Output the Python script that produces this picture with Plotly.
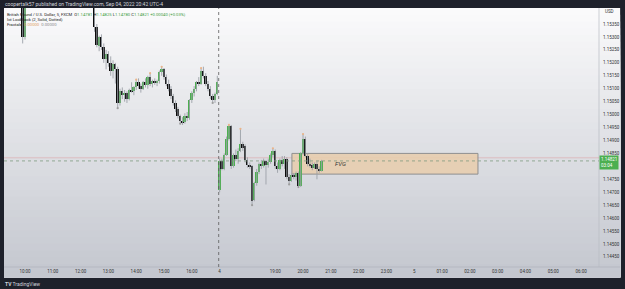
import plotly.graph_objects as go

# ---------------- data ----------------
# bar index: 0 = Fri 09:00 (5-minute bars); index 96 = Sun 17:00 session open
bar_index = list(range(3, 141))

opens = [
    # idx 3-10 (above visible range)
    1.15520, 1.15540, 1.15560, 1.15530, 1.15500, 1.15520, 1.15490, 1.15470,
    # 11, 12
    1.15460, 1.15300,
    # 13-41 (above visible range)
    1.15450, 1.15480, 1.15500, 1.15530, 1.15510, 1.15540, 1.15560, 1.15580, 1.15570, 1.15550,
    1.15530, 1.15560, 1.15590, 1.15600, 1.15580, 1.15560, 1.15540, 1.15520, 1.15550, 1.15570,
    1.15560, 1.15540, 1.15520, 1.15500, 1.15490, 1.15510, 1.15500, 1.15480, 1.15470,
    # 42-59
    1.15470, 1.15340, 1.15265, 1.15300, 1.15260, 1.15215, 1.15235, 1.15200, 1.15170, 1.15195,
    1.15175, 1.15045, 1.15090, 1.15075, 1.15085, 1.15060, 1.15095, 1.15090,
    # 60-79
    1.15105, 1.15125, 1.15110, 1.15100, 1.15125, 1.15115, 1.15145, 1.15120, 1.15130, 1.15125,
    1.15128, 1.15165, 1.15175, 1.15145, 1.15120, 1.15100, 1.15070, 1.15045, 1.15020, 1.14995,
    # 80-95
    1.14975, 1.14970, 1.14995, 1.14985, 1.15055, 1.15085, 1.15100, 1.15125, 1.15120, 1.15170,
    1.15150, 1.15120, 1.15100, 1.15070, 1.15055, 1.15080,
    # 96-115 (Sunday)
    1.14710, 1.14820, 1.14790, 1.14845, 1.14905, 1.14955, 1.14800, 1.14845, 1.14830, 1.14860,
    1.14885, 1.14880, 1.14825, 1.14805, 1.14800, 1.14670, 1.14735, 1.14780, 1.14810, 1.14800,
    # 116-140
    1.14820, 1.14805, 1.14815, 1.14845, 1.14860, 1.14800, 1.14790, 1.14825, 1.14810, 1.14830,
    1.14760, 1.14745, 1.14765, 1.14760, 1.14775, 1.14725, 1.14850, 1.14905, 1.14840, 1.14810,
    1.14805, 1.14795, 1.14810, 1.14790, 1.14781,
]
highs = [
    1.15560, 1.15580, 1.15590, 1.15560, 1.15540, 1.15550, 1.15520, 1.15500,
    1.15470, 1.15470,
    1.15500, 1.15520, 1.15550, 1.15560, 1.15560, 1.15580, 1.15600, 1.15610, 1.15600, 1.15580,
    1.15580, 1.15610, 1.15620, 1.15630, 1.15610, 1.15590, 1.15570, 1.15570, 1.15590, 1.15600,
    1.15590, 1.15570, 1.15550, 1.15530, 1.15530, 1.15540, 1.15530, 1.15510, 1.15500,
    1.15490, 1.15350, 1.15305, 1.15310, 1.15275, 1.15250, 1.15245, 1.15225, 1.15210, 1.15200,
    1.15185, 1.15100, 1.15105, 1.15095, 1.15090, 1.15100, 1.15125, 1.15110,
    1.15135, 1.15140, 1.15120, 1.15130, 1.15140, 1.15150, 1.15160, 1.15135, 1.15140, 1.15135,
    1.15170, 1.15185, 1.15180, 1.15155, 1.15135, 1.15110, 1.15080, 1.15055, 1.15030, 1.15000,
    1.14990, 1.15005, 1.15010, 1.15060, 1.15090, 1.15110, 1.15130, 1.15145, 1.15180, 1.15185,
    1.15160, 1.15130, 1.15110, 1.15080, 1.15085, 1.15150,
    1.14830, 1.14830, 1.14850, 1.14915, 1.14960, 1.14960, 1.14850, 1.14865, 1.14870, 1.14945,
    1.14895, 1.14885, 1.14835, 1.14815, 1.14805, 1.14740, 1.14790, 1.14815, 1.14825, 1.14830,
    1.14825, 1.14830, 1.14850, 1.14870, 1.14865, 1.14815, 1.14830, 1.14840, 1.14840, 1.14835,
    1.14770, 1.14770, 1.14775, 1.14780, 1.14780, 1.14855, 1.14925, 1.14915, 1.14850, 1.14830,
    1.14815, 1.14815, 1.14820, 1.14800, 1.14825,
]
lows = [
    1.15500, 1.15520, 1.15520, 1.15480, 1.15480, 1.15480, 1.15460, 1.15450,
    1.15275, 1.15290,
    1.15440, 1.15470, 1.15490, 1.15500, 1.15500, 1.15530, 1.15550, 1.15560, 1.15540, 1.15520,
    1.15520, 1.15550, 1.15580, 1.15570, 1.15550, 1.15530, 1.15510, 1.15510, 1.15540, 1.15550,
    1.15530, 1.15510, 1.15490, 1.15480, 1.15480, 1.15490, 1.15470, 1.15460, 1.15450,
    1.15320, 1.15260, 1.15245, 1.15250, 1.15200, 1.15175, 1.15185, 1.15150, 1.15140, 1.15120,
    1.15025, 1.15035, 1.15060, 1.15050, 1.15045, 1.15055, 1.15085, 1.15075,
    1.15095, 1.15100, 1.15085, 1.15095, 1.15105, 1.15100, 1.15110, 1.15105, 1.15115, 1.15110,
    1.15120, 1.15150, 1.15135, 1.15110, 1.15090, 1.15060, 1.15035, 1.15010, 1.14985, 1.14965,
    1.14960, 1.14965, 1.14975, 1.14980, 1.15045, 1.15070, 1.15090, 1.15110, 1.15115, 1.15140,
    1.15110, 1.15090, 1.15060, 1.15045, 1.15045, 1.15075,
    1.14700, 1.14785, 1.14785, 1.14840, 1.14900, 1.14790, 1.14795, 1.14820, 1.14810, 1.14855,
    1.14860, 1.14815, 1.14795, 1.14790, 1.14650, 1.14665, 1.14725, 1.14770, 1.14790, 1.14795,
    1.14730, 1.14795, 1.14810, 1.14835, 1.14790, 1.14775, 1.14785, 1.14800, 1.14790, 1.14750,
    1.14730, 1.14740, 1.14750, 1.14745, 1.14720, 1.14720, 1.14845, 1.14835, 1.14800, 1.14795,
    1.14785, 1.14790, 1.14750, 1.14775, 1.14780,
]
closes = [
    1.15540, 1.15560, 1.15530, 1.15500, 1.15520, 1.15490, 1.15470, 1.15460,
    1.15300, 1.15450,
    1.15480, 1.15500, 1.15530, 1.15510, 1.15540, 1.15560, 1.15580, 1.15570, 1.15550, 1.15530,
    1.15560, 1.15590, 1.15600, 1.15580, 1.15560, 1.15540, 1.15520, 1.15550, 1.15570, 1.15560,
    1.15540, 1.15520, 1.15500, 1.15490, 1.15510, 1.15500, 1.15480, 1.15470, 1.15470,
    1.15340, 1.15270, 1.15300, 1.15260, 1.15215, 1.15235, 1.15200, 1.15170, 1.15195, 1.15175,
    1.15045, 1.15090, 1.15075, 1.15085, 1.15060, 1.15095, 1.15090, 1.15105,
    1.15125, 1.15110, 1.15100, 1.15125, 1.15115, 1.15145, 1.15120, 1.15130, 1.15125, 1.15128,
    1.15165, 1.15175, 1.15145, 1.15120, 1.15100, 1.15070, 1.15045, 1.15020, 1.14995, 1.14975,
    1.14970, 1.14995, 1.14985, 1.15055, 1.15085, 1.15100, 1.15125, 1.15120, 1.15170, 1.15150,
    1.15120, 1.15100, 1.15070, 1.15055, 1.15080, 1.15125,
    1.14820, 1.14790, 1.14845, 1.14905, 1.14955, 1.14800, 1.14845, 1.14830, 1.14860, 1.14885,
    1.14870, 1.14825, 1.14805, 1.14800, 1.14665, 1.14735, 1.14780, 1.14810, 1.14800, 1.14820,
    1.14805, 1.14815, 1.14845, 1.14860, 1.14800, 1.14790, 1.14825, 1.14810, 1.14830, 1.14760,
    1.14745, 1.14765, 1.14760, 1.14775, 1.14725, 1.14850, 1.14905, 1.14840, 1.14810, 1.14805,
    1.14795, 1.14810, 1.14790, 1.14781, 1.14821,
]

# fractal marks (bar indices)
fractal_up = [60, 66, 71, 88, 100, 105, 119, 132]
fractal_down = [52, 79, 93, 110, 126, 130]

# time-axis ticks
tick_index = [12, 24, 36, 48, 60, 72, 84, 96, 120, 132, 144, 156, 168, 180, 192, 204, 216, 228, 240, 252]
tick_text = ["10:00", "11:00", "12:00", "13:00", "14:00", "15:00", "16:00", "4", "19:00", "20:00",
             "21:00", "22:00", "23:00", "5", "01:00", "02:00", "03:00", "04:00", "05:00", "06:00"]

# price-axis ticks (1.14800 is hidden behind the last-price label)
price_ticks = [1.14450, 1.14500, 1.14550, 1.14600, 1.14650, 1.14700, 1.14750, 1.14850,
               1.14900, 1.14950, 1.15000, 1.15050, 1.15100, 1.15150, 1.15200, 1.15250, 1.15300, 1.15350]

last_price = 1.14821
last_countdown = "03:04"
lookback_level = 1.14833
session_break = 95.6
fvg_start, fvg_end = 127.2, 207.5
fvg_top, fvg_bottom = 1.14850, 1.14770

# ---------------- figure ----------------
UP = "#4caf50"
DOWN = "#0b0b0b"
WICK = "#9ca0a8"
DARK = "#1e212b"
FONT = "Roboto, Arial, sans-serif"

fig = go.Figure()

# wicks
wx, wy = [], []
for i, h, l in zip(bar_index, highs, lows):
    wx += [i, i, None]
    wy += [l, h, None]
fig.add_trace(go.Scatter(x=wx, y=wy, mode="lines", line=dict(color=WICK, width=0.9),
                         hoverinfo="skip", showlegend=False))

# bodies
body_base = [min(o, c) for o, c in zip(opens, closes)]
body_h = [max(abs(c - o), 0.000012) for o, c in zip(opens, closes)]
body_col = [UP if c >= o else DOWN for o, c in zip(opens, closes)]
fig.add_trace(go.Bar(x=bar_index, y=body_h, base=body_base, width=0.85,
                     marker=dict(color=body_col, line=dict(width=0)),
                     showlegend=False, hoverinfo="skip"))

# fractals
hi_map = dict(zip(bar_index, highs))
lo_map = dict(zip(bar_index, lows))
fig.add_trace(go.Scatter(x=fractal_up, y=[hi_map[i] for i in fractal_up], mode="markers",
                         marker=dict(color="#e9b48a", size=2.2, symbol="circle"),
                         showlegend=False, hoverinfo="skip"))
fig.add_trace(go.Scatter(x=fractal_down, y=[lo_map[i] for i in fractal_down], mode="markers",
                         marker=dict(color="#9e9e9e", size=2.2, symbol="circle"),
                         showlegend=False, hoverinfo="skip"))

shapes = []
# background gradient of the light panel: stacked rects, each one starting at the panel bottom
N = 40
y_lo, y_hi = -0.040, 1.0
c_top = (250, 250, 251)
c_bot = (196, 199, 207)
for k in range(N):
    t = k / (N - 1)
    col = tuple(int(round(c_top[j] + (c_bot[j] - c_top[j]) * t)) for j in range(3))
    y1 = y_hi - (y_hi - y_lo) * k / N
    shapes.append(dict(type="rect", xref="paper", yref="paper", x0=0, x1=1.0355, y0=y_lo, y1=y1,
                       fillcolor="rgb(%d,%d,%d)" % col, line=dict(width=0), layer="below"))
# axis separators
shapes.append(dict(type="line", xref="paper", yref="paper", x0=1, x1=1, y0=0, y1=1,
                   line=dict(color="#b8bbc3", width=0.7), layer="below"))
shapes.append(dict(type="line", xref="paper", yref="paper", x0=0, x1=1.0355, y0=0, y1=0,
                   line=dict(color="#b0b3bb", width=0.7), layer="below"))
# lookback line
shapes.append(dict(type="line", xref="paper", yref="y", x0=0, x1=1, y0=lookback_level, y1=lookback_level,
                   line=dict(color="rgba(220,150,150,0.45)", width=1), layer="below"))
# FVG box
shapes.append(dict(type="rect", xref="x", yref="y", x0=fvg_start, x1=fvg_end, y0=fvg_bottom, y1=fvg_top,
                   fillcolor="rgba(232,205,172,0.85)", line=dict(color="#8f8f8f", width=1), layer="below"))
# last price line
shapes.append(dict(type="line", xref="paper", yref="y", x0=0, x1=1, y0=last_price, y1=last_price,
                   line=dict(color="#7f9a80", width=0.8, dash="dot"), layer="above"))
# session break
shapes.append(dict(type="line", xref="x", yref="paper", x0=session_break, x1=session_break, y0=0, y1=1,
                   line=dict(color="#5a5a5a", width=0.8, dash="dot"), layer="above"))

ann = []
ann.append(dict(xref="x", yref="y", x=148, y=(fvg_top + fvg_bottom) / 2, text="<i>FVG</i>",
                showarrow=False, font=dict(size=6, color="#333333", family=FONT)))
ann.append(dict(xref="paper", yref="y", x=1.0, y=last_price, xanchor="left", yanchor="middle", yshift=-2,
                text="%.5f<br>%s" % (last_price, last_countdown), showarrow=False, align="left",
                bgcolor=UP, borderpad=1, font=dict(size=4.5, color="#ffffff", family=FONT)))
ann.append(dict(xref="paper", yref="paper", x=1.006, y=0.985, xanchor="left", yanchor="middle",
                text="USD", showarrow=False, font=dict(size=4.5, color="#333333", family=FONT)))
# top title bar
ann.append(dict(xref="paper", yref="paper", x=-0.0017, y=1.0, yshift=4, xanchor="left", yanchor="middle",
                text="coopertalk57 published on TradingView.com, Sep 04, 2022 20:42 UTC-4", showarrow=False,
                font=dict(size=5, color="#d1d4dc", family=FONT)))
# legend lines
G = "#3d9b41"
ann.append(dict(xref="paper", yref="paper", x=0.002, y=1.0, yshift=-6, xanchor="left", yanchor="middle",
                text="British Pound / U.S. Dollar, 5, FXCM  O<span style='color:%s'>1.14781</span> "
                     "H<span style='color:%s'>1.14825</span> L<span style='color:%s'>1.14780</span> "
                     "C<span style='color:%s'>1.14821</span> <span style='color:%s'>+0.00040 (+0.03%%)</span>"
                     % (G, G, G, G, G),
                showarrow=False, font=dict(size=4.2, color="#222222", family=FONT)))
ann.append(dict(xref="paper", yref="paper", x=0.002, y=1.0, yshift=-11, xanchor="left", yanchor="middle",
                text="Ict Lookback (2, Solid, Dotted)", showarrow=False,
                font=dict(size=4.2, color="#222222", family=FONT)))
ann.append(dict(xref="paper", yref="paper", x=0.002, y=1.0, yshift=-16, xanchor="left", yanchor="middle",
                text="Fractals  <span style='color:#e0a060'>0.00000</span>  <span style='color:#888888'>0.00000</span>",
                showarrow=False, font=dict(size=4.2, color="#222222", family=FONT)))
# bottom logo
ann.append(dict(xref="paper", yref="paper", x=-0.0017, y=0, yshift=-17, xanchor="left", yanchor="middle",
                text="<b>TV</b> TradingView", showarrow=False,
                font=dict(size=5, color="#d1d4dc", family=FONT)))

fig.update_layout(
    width=625, height=289,
    margin=dict(l=4, r=26, t=8, b=22),
    paper_bgcolor=DARK,
    plot_bgcolor="rgba(0,0,0,0)",
    barmode="overlay",
    bargap=0,
    showlegend=False,
    shapes=shapes,
    annotations=ann,
    xaxis=dict(range=[2.94, 259.73], tickmode="array", tickvals=tick_index, ticktext=tick_text,
               showgrid=False, gridcolor="rgba(0,0,0,0)", zeroline=False, showline=False, ticks="",
               tickfont=dict(size=4.5, color="#333333", family=FONT), fixedrange=True),
    yaxis=dict(range=[1.14411, 1.15412], side="right", tickmode="array", tickvals=price_ticks,
               ticktext=["%.5f" % v for v in price_ticks], showgrid=False, gridcolor="rgba(0,0,0,0)",
               zeroline=False, showline=False, ticks="", ticklabelstandoff=3,
               tickfont=dict(size=4.5, color="#333333", family=FONT), fixedrange=True),
)

fig.write_html("out.html")
